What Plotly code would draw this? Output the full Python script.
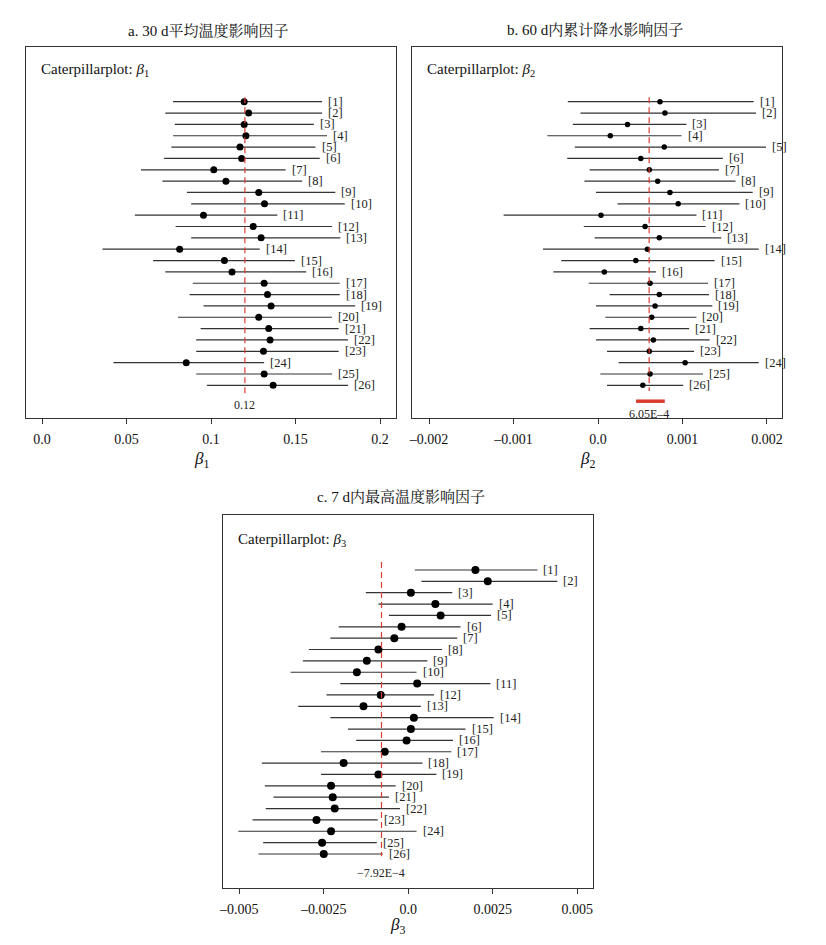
import plotly.graph_objects as go

# ---------------- data ----------------
ROWS = list(range(1, 27))
ROW_LABELS = [f"[{i}]" for i in ROWS]

# Panel a: beta1 (30 d mean temperature)
B1_MEAN = [0.1196, 0.1222, 0.1196, 0.1206, 0.1171, 0.1181, 0.1016, 0.1088, 0.1282, 0.1316,
           0.0955, 0.1249, 0.1296, 0.0814, 0.1079, 0.1124, 0.1314, 0.1334, 0.1355, 0.1282,
           0.1341, 0.1349, 0.1310, 0.0853, 0.1314, 0.1367]
B1_LOW = [0.0775, 0.0729, 0.0785, 0.0775, 0.0765, 0.0722, 0.0585, 0.0712, 0.0857, 0.0882,
          0.0549, 0.0790, 0.0882, 0.0357, 0.0657, 0.0729, 0.0892, 0.0873, 0.0955, 0.0804,
          0.0938, 0.0912, 0.0912, 0.0422, 0.0912, 0.0975]
B1_HIGH = [0.1657, 0.1657, 0.1608, 0.1686, 0.1618, 0.1643, 0.1441, 0.1539, 0.1735, 0.1791,
           0.1392, 0.1716, 0.1765, 0.1288, 0.1496, 0.1563, 0.1761, 0.1761, 0.1853, 0.1716,
           0.1755, 0.1810, 0.1755, 0.1314, 0.1716, 0.1810]
B1_OVERALL = 0.12
B1_OVERALL_LABEL = "0.12"
B1_TICKS = [0.0, 0.05, 0.1, 0.15, 0.2]
B1_TICK_LABELS = ["0.0", "0.05", "0.1", "0.15", "0.2"]

# Panel b: beta2 (60 d cumulative precipitation)
B2_MEAN = [7.33e-4, 7.92e-4, 3.49e-4, 1.45e-4, 7.84e-4, 5.06e-4, 6.07e-4, 7.06e-4, 8.51e-4, 9.49e-4,
           0.35e-4, 5.57e-4, 7.25e-4, 5.84e-4, 4.47e-4, 0.74e-4, 6.16e-4, 7.25e-4, 6.75e-4, 6.35e-4,
           5.06e-4, 6.55e-4, 6.07e-4, 10.31e-4, 6.16e-4, 5.30e-4]
B2_LOW = [-3.58e-4, -2.08e-4, -2.99e-4, -6.00e-4, -2.75e-4, -3.65e-4, -1.00e-4, -1.61e-4, -0.24e-4, 2.31e-4,
          -11.18e-4, -1.69e-4, -0.40e-4, -6.52e-4, -4.35e-4, -5.29e-4, -1.10e-4, 1.37e-4, -0.24e-4, 0.86e-4,
          -1.00e-4, -0.24e-4, 1.06e-4, 2.43e-4, 0.27e-4, 1.06e-4]
B2_HIGH = [18.42e-4, 18.70e-4, 10.47e-4, 9.88e-4, 19.88e-4, 14.78e-4, 14.31e-4, 16.27e-4, 18.31e-4, 16.74e-4,
           11.65e-4, 12.74e-4, 14.59e-4, 19.02e-4, 13.80e-4, 6.86e-4, 13.02e-4, 13.13e-4, 13.53e-4, 11.65e-4,
           10.78e-4, 13.21e-4, 11.37e-4, 19.02e-4, 12.43e-4, 10.08e-4]
B2_OVERALL = 6.05e-4
B2_OVERALL_CI = [4.5e-4, 7.9e-4]
B2_OVERALL_LABEL = "6.05E–4"
B2_TICKS = [-0.002, -0.001, 0.0, 0.001, 0.002]
B2_TICK_LABELS = ["–0.002", "–0.001", "0.0", "0.001", "0.002"]

# Panel c: beta3 (7 d maximum temperature)
B3_MEAN = [1.988e-3, 2.353e-3, 0.078e-3, 0.803e-3, 0.959e-3, -0.197e-3, -0.412e-3, -0.882e-3, -1.226e-3, -1.520e-3,
           0.265e-3, -0.814e-3, -1.324e-3, 0.167e-3, 0.078e-3, -0.050e-3, -0.696e-3, -1.912e-3, -0.882e-3, -2.284e-3,
           -2.235e-3, -2.176e-3, -2.716e-3, -2.284e-3, -2.550e-3, -2.500e-3]
B3_LOW = [0.194e-3, 0.391e-3, -1.256e-3, -0.882e-3, -0.571e-3, -2.059e-3, -2.306e-3, -2.941e-3, -3.118e-3, -3.482e-3,
          -2.011e-3, -2.422e-3, -3.255e-3, -2.306e-3, -1.784e-3, -1.540e-3, -2.580e-3, -4.333e-3, -2.580e-3, -4.245e-3,
          -3.990e-3, -4.216e-3, -4.608e-3, -5.030e-3, -4.294e-3, -4.431e-3]
B3_HIGH = [3.824e-3, 4.412e-3, 1.303e-3, 2.500e-3, 2.450e-3, 1.547e-3, 1.450e-3, 1.000e-3, 0.568e-3, 0.245e-3,
           2.431e-3, 0.764e-3, 0.372e-3, 2.529e-3, 1.696e-3, 1.324e-3, 1.275e-3, 0.421e-3, 0.833e-3, -0.373e-3,
           -0.571e-3, -0.245e-3, -0.902e-3, 0.245e-3, -0.931e-3, -0.755e-3]
B3_OVERALL = -7.92e-4
B3_OVERALL_LABEL = "−7.92E−4"
B3_TICKS = [-0.005, -0.0025, 0.0, 0.0025, 0.005]
B3_TICK_LABELS = ["–0.005", "–0.0025", "0.0", "0.0025", "0.005"]

TITLES = ["a. 30 d平均温度影响因子", "b. 60 d内累计降水影响因子", "c. 7 d内最高温度影响因子"]
PANEL_LABELS = ["Caterpillarplot: <i>β</i><sub>1</sub>", "Caterpillarplot: <i>β</i><sub>2</sub>",
                "Caterpillarplot: <i>β</i><sub>3</sub>"]
AXIS_TITLES = ["<i>β</i><sub>1</sub>", "<i>β</i><sub>2</sub>", "<i>β</i><sub>3</sub>"]

# ---------------- figure ----------------
# The page body has an 8 px margin; figure is sized so the page fills the window.
OFF = 8
W, H = 826 - 2 * OFF, 945 - 2 * OFF
FONT = "Liberation Serif, Times New Roman, Noto Serif CJK SC, Noto Sans CJK SC, serif"
RED = "#dc3b2e"
LINE = "#333333"


def px(x):
    return (x - OFF) / W


def py(y):
    return 1 - (y - OFF) / H


fig = go.Figure()

panels = [
    dict(mean=B1_MEAN, low=B1_LOW, high=B1_HIGH, overall=B1_OVERALL, olabel=B1_OVERALL_LABEL,
         ticks=B1_TICKS, ticklabels=B1_TICK_LABELS, xr=[-0.00976, 0.2092], yr=[28.88, -3.85],
         xd=[21.7, 394.0], yd=[46.7, 418.0], msize=7, dash=[0.6, 26.95], olab_row=27.75,
         title_xy=(205, 30), lab_xy=(35, 70), axt_xy=(199, 460)),
    dict(mean=B2_MEAN, low=B2_LOW, high=B2_HIGH, overall=B2_OVERALL, olabel=B2_OVERALL_LABEL,
         ticks=B2_TICKS, ticklabels=B2_TICK_LABELS, xr=[-0.0022, 0.002172], yr=[28.88, -3.85],
         xd=[410.7, 782.3], yd=[46.7, 418.0], msize=5.5, dash=[0.6, 26.5], olab_row=28.5,
         title_xy=(595, 30), lab_xy=(424, 70), axt_xy=(587, 460)),
    dict(mean=B3_MEAN, low=B3_LOW, high=B3_HIGH, overall=B3_OVERALL, olabel=B3_OVERALL_LABEL,
         ticks=B3_TICKS, ticklabels=B3_TICK_LABELS, xr=[-0.005471, 0.005459], yr=[29.02, -3.84],
         xd=[220.7, 592.3], yd=[515.0, 888.3], msize=8, dash=[0.3, 26.2], olab_row=27.7,
         title_xy=(399, 496), lab_xy=(233, 540), axt_xy=(396, 926)),
]

annotations = []
for k, p in enumerate(panels):
    n = "" if k == 0 else str(k + 1)
    xa, ya = "x" + n, "y" + n
    err_plus = [h - m for h, m in zip(p["high"], p["mean"])]
    err_minus = [m - l for m, l in zip(p["mean"], p["low"])]
    fig.add_trace(go.Scatter(
        x=p["mean"], y=ROWS, mode="markers", xaxis=xa, yaxis=ya, showlegend=False,
        marker=dict(color="black", size=p["msize"]),
        error_x=dict(type="data", symmetric=False, array=err_plus, arrayminus=err_minus,
                     width=0, thickness=1.2, color=LINE)))
    fig.add_trace(go.Scatter(
        x=[p["overall"], p["overall"]], y=p["dash"], mode="lines", xaxis=xa, yaxis=ya,
        showlegend=False, line=dict(color=RED, width=1.2, dash="6px,4px")))
    if k == 1:
        fig.add_trace(go.Scatter(
            x=B2_OVERALL_CI, y=[27.4, 27.4], mode="lines", xaxis=xa, yaxis=ya,
            showlegend=False, line=dict(color=RED, width=3.5)))
    # row labels at the right end of each interval
    for r, hx, lab in zip(ROWS, p["high"], ROW_LABELS):
        annotations.append(dict(x=hx, y=r, xref=xa, yref=ya, text=lab, xanchor="left",
                                yanchor="middle", xshift=4, showarrow=False,
                                font=dict(family=FONT, size=12.5, color="#222")))
    annotations.append(dict(x=p["overall"], y=p["olab_row"], xref=xa, yref=ya, text=p["olabel"],
                            xanchor="center", yanchor="middle",
                            showarrow=False, font=dict(family=FONT, size=12, color="#222")))
    tx, ty = p["title_xy"]
    annotations.append(dict(x=px(tx), y=py(ty), xref="paper", yref="paper", text=TITLES[k],
                            xanchor="center", yanchor="middle",
                            showarrow=False, font=dict(family=FONT, size=15, color="#111")))
    lx, ly = p["lab_xy"]
    annotations.append(dict(x=px(lx), y=py(ly), xref="paper", yref="paper", text=PANEL_LABELS[k],
                            xanchor="left", yanchor="middle",
                            showarrow=False, font=dict(family=FONT, size=15, color="#111")))
    ax_, ay_ = p["axt_xy"]
    annotations.append(dict(x=px(ax_), y=py(ay_), xref="paper", yref="paper", text=AXIS_TITLES[k],
                            xanchor="center", yanchor="middle",
                            showarrow=False, font=dict(family=FONT, size=17, color="#111")))

    xkey = "xaxis" + n
    ykey = "yaxis" + n
    fig.layout[xkey] = dict(
        domain=[px(p["xd"][0]), px(p["xd"][1])], range=p["xr"], anchor=ya,
        tickvals=p["ticks"], ticktext=p["ticklabels"], ticks="outside", ticklen=5,
        tickcolor="#333", tickwidth=1, showgrid=False, zeroline=False,
        showline=True, linecolor="#333", linewidth=1.2, mirror=True,
        tickfont=dict(family=FONT, size=14, color="#111"), ticklabelstandoff=3)
    fig.layout[ykey] = dict(
        domain=[py(p["yd"][1]), py(p["yd"][0])], range=p["yr"], anchor=xa,
        showticklabels=False, ticks="", showgrid=False, zeroline=False,
        showline=True, linecolor="#333", linewidth=1.2, mirror=True)

fig.update_layout(
    width=W, height=H, margin=dict(l=0, r=0, t=0, b=0),
    paper_bgcolor="white", plot_bgcolor="white",
    annotations=annotations, font=dict(family=FONT))

fig.write_html("out.html")
